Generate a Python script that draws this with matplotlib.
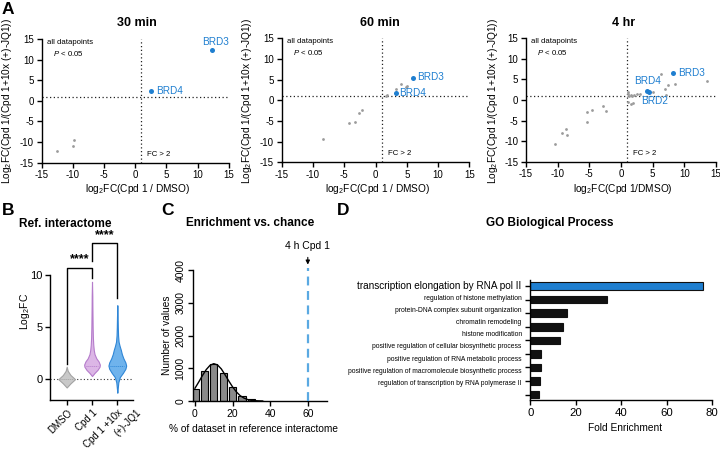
import matplotlib
matplotlib.use('Agg')
import matplotlib.pyplot as plt
import matplotlib.transforms as mtransforms

plt.rcParams['font.family'] = ['Liberation Sans', 'DejaVu Sans']
plt.rcParams['axes.unicode_minus'] = False
plt.rcParams['mathtext.fontset'] = 'custom'
plt.rcParams['mathtext.rm'] = 'Liberation Sans'
plt.rcParams['mathtext.it'] = 'Liberation Sans:italic'
plt.rcParams['mathtext.bf'] = 'Liberation Sans:bold'

# ---------------- data ----------------
# Panel A: 30 min
t30_gray_x = [-12.6, -10.0, -9.8]
t30_gray_y = [-12.2, -10.95, -9.5]
t30_brd_names = ['BRD3', 'BRD4']
t30_brd_x = [12.3, 2.6]
t30_brd_y = [12.3, 2.3]

# Panel A: 60 min
t60_gray_x = [-8.45, -4.3, -3.22, -2.6, -2.08, 1.7, 1.85, 3.25, 4.15, 4.8, 5.1]
t60_gray_y = [-9.25, -5.4, -5.25, -3.15, -2.25, 1.1, 1.4, 2.66, 4.05, 3.2, 3.5]
t60_brd_names = ['BRD3', 'BRD4']
t60_brd_x = [5.95, 3.2]
t60_brd_y = [5.5, 1.65]

# Panel A: 4 hr
t4h_gray_x = [-10.5, -9.3, -8.75, -8.6, -5.3, -5.3, -4.6, -2.9, -2.4,
              1.15, 1.05, 1.25, 1.5, 1.7, 1.05, 1.55, 1.9, 2.05, 2.6, 3.0,
              5.0, 6.3, 7.0, 7.4, 8.6, 7.1, 13.6]
t4h_gray_y = [-10.8, -8.0, -7.1, -8.6, -3.0, -5.4, -2.4, -1.45, -2.6,
              1.9, 1.4, 0.95, 1.3, 1.0, -0.6, -1.05, -0.8, 1.2, 1.4, 1.5,
              1.9, 6.2, 2.6, 3.6, 3.8, 1.2, 4.5]
t4h_brd_names = ['BRD3', 'BRD4', 'BRD2']
t4h_brd_x = [8.2, 4.1, 4.4]
t4h_brd_y = [6.55, 2.2, 2.0]

# Panel B: violin density profiles (log2FC level, half-width)
violin_groups = ['DMSO', 'Cpd 1', 'Cpd 1 +10x']
violin_group3_line2 = '(+)-JQ1'
dmso_y = [-0.8, -0.4, 0.0, 0.4, 0.8, 1.2]
dmso_w = [0.0, 0.15, 0.33, 0.15, 0.04, 0.0]
cpd1_y = [0.3, 0.6, 0.9, 1.2, 1.4, 1.7, 2.0, 2.4, 2.8, 3.3, 4.0, 5.0, 6.0, 7.0, 8.0, 9.35]
cpd1_w = [0.0, 0.10, 0.22, 0.30, 0.31, 0.26, 0.17, 0.10, 0.07, 0.05, 0.035, 0.025, 0.02, 0.015, 0.012, 0.0]
jq1_y = [-1.3, -0.8, -0.3, 0.2, 0.6, 1.0, 1.3, 1.6, 2.0, 2.4, 2.8, 3.2, 3.6, 4.2, 5.0, 6.0, 7.1]
jq1_w = [0.0, 0.02, 0.04, 0.10, 0.22, 0.32, 0.35, 0.32, 0.24, 0.18, 0.14, 0.09, 0.05, 0.03, 0.02, 0.012, 0.0]
violin_medians = [0.0, 1.3, 1.3]

# Panel C: histogram of chance overlap
hist_centers = [0, 5, 10, 15, 20, 25, 30, 35]
hist_counts = [380, 910, 1130, 850, 420, 150, 60, 15]
fit_x = [0, 2, 4, 6, 8, 10, 12, 14, 16, 18, 20, 22, 24, 26, 28, 30, 32, 34, 36]
fit_y = [390, 580, 780, 960, 1090, 1140, 1100, 980, 800, 610, 430, 280, 165, 90, 45, 20, 9, 4, 0]
observed_pct = 60

# Panel D: GO terms
go_terms = ['transcription elongation by RNA pol II',
            'regulation of histone methylation',
            'protein-DNA complex subunit organization',
            'chromatin remodeling',
            'histone modification',
            'positive regulation of cellular biosynthetic process',
            'positive regulation of RNA metabolic process',
            'positive regulation of macromolecule biosynthetic process',
            'regulation of transcription by RNA polymerase II']
go_fold = [76, 33.5, 16, 14.5, 13, 4.5, 4.5, 4.3, 3.8]

# ---------------- layout ----------------
W, H = 720, 451
fig = plt.figure(figsize=(W / 100, H / 100), dpi=100)
BLUE = '#1f7fd0'
GRAY = '#9b9b9b'


def add_ax_px(l, t, r, b):
    return fig.add_axes([l / W, 1 - b / H, (r - l) / W, (b - t) / H])


def ftext(x, y, s, **kw):
    fig.text(x / W, 1 - y / H, s, **kw)


def style(ax, fs):
    for s in ['top', 'right']:
        ax.spines[s].set_visible(False)
    for s in ['left', 'bottom']:
        ax.spines[s].set_linewidth(1.0)
    ax.tick_params(direction='out', length=3.5, width=1.0, labelsize=fs, pad=2)


# Panel A
a_specs = [
    ((41.7, 39, 228.7, 162.7), '30 min', t30_gray_x, t30_gray_y, t30_brd_names, t30_brd_x, t30_brd_y,
     {'BRD3': (10.7, 14.3), 'BRD4': (3.4, 2.4)}, 'log$_2$FC(Cpd 1 / DMSO)', 137, 137.7, 7),
    ((281.7, 38.3, 469.3, 162.3), '60 min', t60_gray_x, t60_gray_y, t60_brd_names, t60_brd_x, t60_brd_y,
     {'BRD3': (6.6, 5.7), 'BRD4': (3.8, 1.85)}, 'log$_2$FC(Cpd 1 / DMSO)', 379.5, 378, 247),
    ((526, 38.3, 716, 161.7), '4 hr', t4h_gray_x, t4h_gray_y, t4h_brd_names, t4h_brd_x, t4h_brd_y,
     {'BRD3': (8.95, 6.65), 'BRD4': (2.05, 4.6), 'BRD2': (3.2, -0.2)}, 'log$_2$FC(Cpd 1/DMSO)', 623.8, 623, 493),
]
for (box, title, gx, gy, names, bx, by, lpos, xlab, tx, xlx, ylx) in a_specs:
    ax = add_ax_px(*box)
    style(ax, 7)
    ax.set_xlim(-15, 15)
    ax.set_ylim(-15, 15)
    ax.set_xticks(range(-15, 16, 5))
    ax.set_yticks(range(-15, 16, 5))
    ax.axvline(1, color='#222222', ls=(0, (1, 2)), lw=0.9, zorder=1)
    ax.axhline(1, color='#222222', ls=(0, (1, 2)), lw=0.9, zorder=1)
    ax.scatter(gx, gy, s=4, color=GRAY, lw=0, zorder=3)
    ax.scatter(bx, by, s=13, color=BLUE, lw=0, zorder=4)
    for n in names:
        px, py = lpos[n]
        ax.text(px, py, n, color=BLUE, fontsize=7.2, ha='left', va='center', zorder=5)
    ax.text(-14.2, 14.2, 'all datapoints', fontsize=5.6, ha='left', va='center')
    ax.text(-13.2, 11.5, '$P$ < 0.05', fontsize=5.6, ha='left', va='center')
    ax.text(1.95, -12.9, 'FC > 2', fontsize=5.6, ha='left', va='center')
    ftext(tx, 22.5, title, fontsize=9, fontweight='bold', ha='center', va='center')
    ftext(xlx, 189.3, xlab, fontsize=7.25, ha='center', va='center')
    ftext(ylx, 100.5, 'Log$_2$FC(Cpd 1/(Cpd 1+10x (+)-JQ1))', fontsize=7.25,
          rotation=90, ha='center', va='center')

# Panel B
axb = add_ax_px(50, 275, 133, 400)
style(axb, 8)
axb.set_xlim(-0.66, 2.62)
axb.set_ylim(-2, 10)
axb.set_yticks([0, 5, 10])
axb.axhline(0, color='#333333', ls=(0, (1, 2)), lw=0.8, zorder=1)
vspecs = [(dmso_y, dmso_w, '#c9c9c9', '#a3a3a3'),
          (cpd1_y, cpd1_w, '#dcb6e6', '#b57ccb'),
          (jq1_y, jq1_w, '#6fb3ec', '#2f86d6')]
for i, (vy, vw, fc, ec) in enumerate(vspecs):
    left = [i - w for w in vw]
    right = [i + w for w in vw]
    axb.fill_betweenx(vy, left, right, facecolor=fc, edgecolor=ec, lw=0.8, zorder=2)
    mw = max(vw) * 0.8
    axb.plot([i - mw, i + mw], [violin_medians[i]] * 2, color=ec, ls=(0, (1, 1)), lw=0.7, zorder=3)
axb.set_xticks(range(3))
axb.set_xticklabels(violin_groups, rotation=45, ha='right', rotation_mode='anchor', fontsize=7)
line2_tr = axb.get_xaxis_transform() + mtransforms.ScaledTranslation(0.19, -0.076, fig.dpi_scale_trans)
axb.text(2, 0, violin_group3_line2, transform=line2_tr, rotation=45, ha='right', va='top',
         rotation_mode='anchor', fontsize=7)
# significance brackets
bk = dict(color='black', lw=1.0, clip_on=False)
axb.plot([0, 0, 1, 1], [1.5, 10.7, 10.7, 9.7], **bk)
axb.plot([1, 1, 2, 2], [11.3, 13.05, 13.05, 7.8], **bk)
axb.text(0.5, 11.5, '****', fontsize=9, fontweight='bold', ha='center', va='center')
axb.text(1.5, 13.85, '****', fontsize=9, fontweight='bold', ha='center', va='center')
ftext(65, 224, 'Ref. interactome', fontsize=8.5, fontweight='bold', ha='center', va='center')
ftext(25, 311, 'Log$_2$FC', fontsize=7.5, rotation=90, ha='center', va='center')

# Panel C
axc = add_ax_px(193.1, 270, 326.6, 401)
style(axc, 7.5)
axc.set_xlim(-1, 70)
axc.set_ylim(0, 4000)
axc.set_xticks([0, 20, 40, 60])
axc.set_yticks([0, 1000, 2000, 3000, 4000])
for lab in axc.get_yticklabels():
    lab.set_rotation(90)
    lab.set_va('center')
axc.bar(hist_centers, hist_counts, width=3.9, color='#8a8a8a', edgecolor='black', lw=0.8, zorder=2)
axc.plot(fit_x, fit_y, color='black', lw=1.0, zorder=3)
axc.plot([observed_pct, observed_pct], [0, 4060], color='#5aa9e2', ls=(0, (4, 2.5)), lw=1.6,
         clip_on=False, zorder=3)
axc.annotate('', xy=(observed_pct, 4080), xytext=(observed_pct, 4470),
             arrowprops=dict(arrowstyle='-|>', color='black', lw=0.8, mutation_scale=6),
             annotation_clip=False)
axc.text(observed_pct, 4720, '4 h Cpd 1', fontsize=7.5, ha='center', va='center')
ftext(250, 222.7, 'Enrichment vs. chance', fontsize=8.5, fontweight='bold', ha='center', va='center')
ftext(253.7, 429, '% of dataset in reference interactome', fontsize=7.3, ha='center', va='center')
ftext(166.7, 335, 'Number of values', fontsize=7.3, rotation=90, ha='center', va='center')

# Panel D
axd = add_ax_px(530.3, 280, 712.3, 400)
style(axd, 8.2)
axd.set_xlim(0, 80)
axd.set_ylim(8.4, -0.45)
axd.set_xticks([0, 20, 40, 60, 80])
ypos = list(range(len(go_terms)))
colors = [BLUE] + ['#111111'] * (len(go_terms) - 1)
axd.barh(ypos, go_fold, height=0.55, color=colors, edgecolor='#111111', lw=0.8, zorder=2)
axd.set_yticks(ypos)
axd.set_yticklabels([''] * len(ypos))
for i, term in enumerate(go_terms):
    axd.text(-3.8, i * 0.897, term, fontsize=7.2 if i == 0 else 4.85, ha='right', va='center',
             clip_on=False)
ftext(549.7, 222.7, 'GO Biological Process', fontsize=8.5, fontweight='bold', ha='center', va='center')
ftext(625, 427.7, 'Fold Enrichment', fontsize=7.3, ha='center', va='center')

# Panel letters
for letter, x, y in [('A', 2, 9), ('B', 2, 211), ('C', 161, 211), ('D', 337, 211)]:
    ftext(x, y, letter, fontsize=12.5, fontweight='bold', ha='left', va='center')

fig.savefig('out.png', dpi=100)
